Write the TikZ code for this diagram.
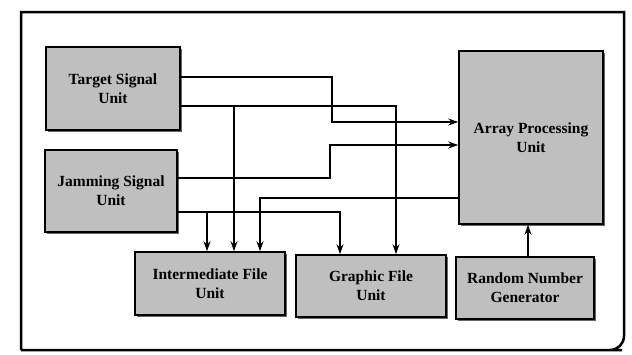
\documentclass[tikz,border=0pt]{standalone}
\usepackage{fontspec}
\setmainfont{Liberation Serif}
\usetikzlibrary{arrows.meta,shadows}
\begin{document}
\begin{tikzpicture}[x=1pt,y=-1pt,
  unitbox/.style={draw=black, line width=1.6pt, fill=black!25, align=center,
    font=\fontsize{15.5}{19}\selectfont\bfseries, inner sep=2pt,
    drop shadow={shadow xshift=1.8pt, shadow yshift=-1.8pt, fill=black!60, opacity=1}},
  conn/.style={line width=1.5pt},
  arr/.style={conn, -{Stealth[length=10pt,width=7pt]}}]
\useasboundingbox (0,0) rectangle (632,354);
% outer frame
\draw[line width=2.5pt, rounded corners=0pt] (21,350) -- (21,12) -- (624,12) -- (624,334) [rounded corners=14pt] -- (624,350) -- (608,350) [rounded corners=0pt] -- (21,350);
% boxes
\node[unitbox, minimum width=134pt, minimum height=83pt] (T) at (113,88.5) {Target Signal\\Unit};
\node[unitbox, minimum width=132pt, minimum height=82pt] (J) at (111,191) {Jamming Signal\\Unit};
\node[unitbox, minimum width=144pt, minimum height=173pt] (A) at (531,137.5) {Array Processing\\Unit};
\node[unitbox, minimum width=150pt, minimum height=63pt] (I) at (210,283.5) {Intermediate File\\Unit};
\node[unitbox, minimum width=150pt, minimum height=62pt] (G) at (371,286) {Graphic File\\Unit};
\node[unitbox, minimum width=138pt, minimum height=62pt] (R) at (525,288) {Random Number\\Generator};
% branch points
\coordinate (tb) at (234,106);
\coordinate (jb) at (207,212);
% connectors
\draw[arr] (T.east |- 0,77) -- (332,77) -- (332,122) -- (A.west |- 0,122);
\draw[arr] (T.east |- 0,106) -| (G.north -| 396,0);
\draw[arr] (tb) -- (I.north -| tb);
\draw[arr] (J.east |- 0,178) -- (330,178) -- (330,145) -- (A.west |- 0,145);
\draw[arr] (J.east |- 0,212) -| (G.north -| 340,0);
\draw[arr] (jb) -- (I.north -| jb);
\draw[arr] (A.west |- 0,198) -| (I.north -| 260,0);
\draw[arr] (R.north -| 528,0) -- (A.south -| 528,0);
\end{tikzpicture}
\end{document}
